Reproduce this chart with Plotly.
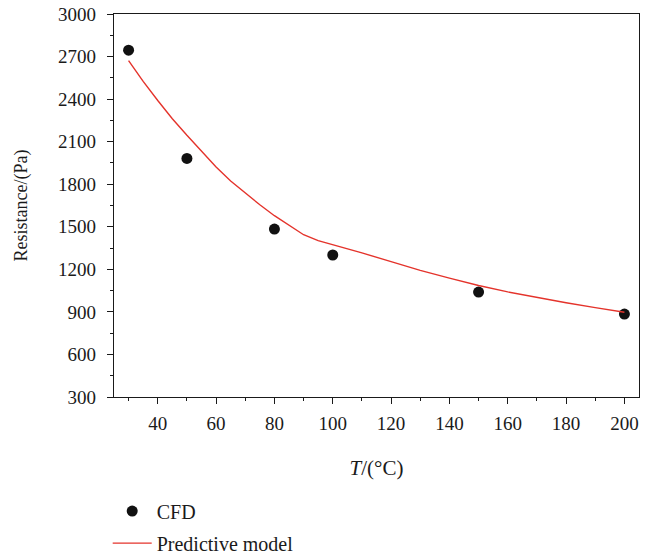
import plotly.graph_objects as go

# CFD simulation results
cfd_temp = [30, 50, 80, 100, 150, 200]
cfd_resistance = [2745, 1982, 1484, 1301, 1040, 885]

# Predictive model curve
model_temp = [30, 35, 40, 45, 50, 55, 60, 65, 70, 75, 80, 85, 90, 95, 100,
              110, 120, 130, 140, 150, 160, 170, 180, 190, 200]
model_resistance = [2672, 2525, 2390, 2262, 2145, 2030, 1922, 1822, 1737, 1655,
                    1578, 1508, 1444, 1402, 1374, 1316, 1254, 1193, 1138, 1086,
                    1041, 1000, 964, 930, 897]

x_ticks = [40, 60, 80, 100, 120, 140, 160, 180, 200]
y_ticks = [300, 600, 900, 1200, 1500, 1800, 2100, 2400, 2700, 3000]

FONT = "Liberation Serif"
INK = "#1a1a1a"

fig = go.Figure()
fig.add_trace(go.Scatter(
    x=cfd_temp, y=cfd_resistance, mode="markers", name="CFD",
    legendgroup="a",
    marker=dict(color="#111111", size=11),
))
fig.add_trace(go.Scatter(
    x=model_temp, y=model_resistance, mode="lines", name="Predictive model",
    legendgroup="b",
    line=dict(color="#e4332b", width=1.4),
))

axis_common = dict(
    showline=True, linecolor=INK, linewidth=1.3, mirror=True,
    ticks="outside", ticklen=6, tickwidth=1.2, tickcolor=INK,
    showgrid=False, zeroline=False,
    tickfont=dict(family=FONT, size=19, color=INK),
)

fig.update_xaxes(
    range=[25, 205], tickvals=x_ticks, ticklabelstandoff=3,
    minor=dict(dtick=10, tick0=0, ticks="outside", ticklen=3, tickwidth=1.1, tickcolor=INK),
    title=dict(text="<i>T</i>/(°C)", font=dict(family=FONT, size=21, color=INK), standoff=27),
    **axis_common,
)
fig.update_yaxes(
    range=[300, 3000], tickvals=y_ticks, ticklabelstandoff=7,
    minor=dict(dtick=150, tick0=0, ticks="outside", ticklen=3, tickwidth=1.1, tickcolor=INK),
    title=dict(text="Resistance/(Pa)", font=dict(family=FONT, size=18, color=INK), standoff=25),
    **axis_common,
)

fig.update_layout(
    width=653, height=557,
    margin=dict(l=114, r=14, t=14, b=160, autoexpand=False),
    plot_bgcolor="white", paper_bgcolor="white",
    showlegend=True,
    legend=dict(
        x=-0.012, y=-0.247, xanchor="left", yanchor="top",
        orientation="v", traceorder="grouped", tracegroupgap=3,
        itemwidth=39,
        font=dict(family=FONT, size=20, color=INK),
        bgcolor="rgba(0,0,0,0)",
    ),
)

fig.write_html("out.html")
